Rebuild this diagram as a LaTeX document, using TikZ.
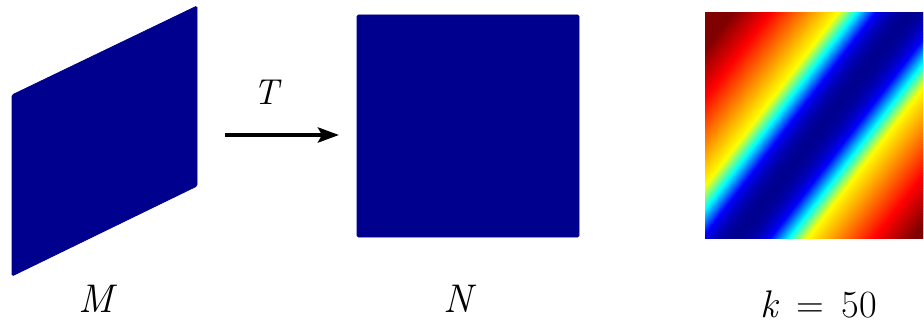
\documentclass[tikz,border=0pt]{standalone}
\usepackage{fontspec}
\usetikzlibrary{arrows.meta}
\definecolor{jnavy}{rgb}{0,0,0.5625}
\definecolor{jblue}{rgb}{0,0,1}
\definecolor{jcyan}{rgb}{0,1,1}
\definecolor{jyellow}{rgb}{1,1,0}
\definecolor{jred}{rgb}{1,0,0}
\definecolor{jdred}{rgb}{0.5,0,0}
\tikzset{
  panel/.style={fill=jnavy, draw=jnavy, line width=0.8pt, rounded corners=1.5pt},
  maparrow/.style={line width=4pt, -{Stealth[length=21pt,width=15pt,inset=4pt]}},
  biglabel/.style={font=\fontsize{40}{48}\selectfont, anchor=base, inner sep=0pt},
  midlabel/.style={font=\fontsize{36}{43}\selectfont, anchor=base, inner sep=0pt},
  klabel/.style={font=\fontsize{38.5}{46}\selectfont, anchor=base, inner sep=0pt}
}
\begin{document}
\begin{tikzpicture}[x=1pt,y=-1pt]
\useasboundingbox (0,0) rectangle (924,326);
% manifold M (parallelogram)
\coordinate (m1) at (12,95);
\coordinate (m2) at (197,6);
\coordinate (m3) at (197,186);
\coordinate (m4) at (12,276);
\draw[panel] (m1) -- (m2) -- (m3) -- (m4) -- cycle;
% manifold N (square)
\coordinate (n1) at (357,15);
\coordinate (n2) at (579,237);
\draw[panel] (n1) rectangle (n2);
% colour map (jet colours in diagonal bands)
\coordinate (c1) at (705,13);
\coordinate (c2) at (923,238);
\coordinate (cc) at (823,125.5);
\begin{scope}
  \clip (c1) rectangle (c2);
  \begin{scope}[shift={(cc)}, rotate=-37.5]
    \foreach \s in {-170,...,156}{
      \pgfmathsetmacro{\a}{abs(\s)}
      \ifdim\a pt<27pt
        \pgfmathsetmacro{\p}{100*(\a/27)^2}\colorlet{sc}{jblue!\p!jnavy}
      \else\ifdim\a pt<42pt
        \pgfmathsetmacro{\p}{100*(\a-27)/15}\colorlet{sc}{jcyan!\p!jblue}
      \else\ifdim\a pt<56.5pt
        \pgfmathsetmacro{\p}{100*(\a-42)/14.5}\colorlet{sc}{jyellow!\p!jcyan}
      \else\ifdim\a pt<110pt
        \pgfmathsetmacro{\p}{100*(\a-56.5)/53.5}\colorlet{sc}{jred!\p!jyellow}
      \else
        \pgfmathsetmacro{\p}{min(100,100*(\a-110)/30)}\colorlet{sc}{jdred!\p!jred}
      \fi\fi\fi\fi
      \fill[sc] (\s-0.5,-190) rectangle (\s+1.1,190);
    }
  \end{scope}
\end{scope}
% arrow T
\coordinate (Ta) at (225,135);
\coordinate (Tb) at (339,135);
\draw[maparrow] (Ta) -- (Tb);
\node[midlabel] (T) at (266,105) {\itshape T};
% labels
\node[biglabel] (M) at (96,312) {\itshape M};
\node[biglabel] (N) at (458,312) {\itshape N};
\node[klabel] (k) at (819,317) {{\itshape k}\, = \,50};
\end{tikzpicture}
\end{document}
